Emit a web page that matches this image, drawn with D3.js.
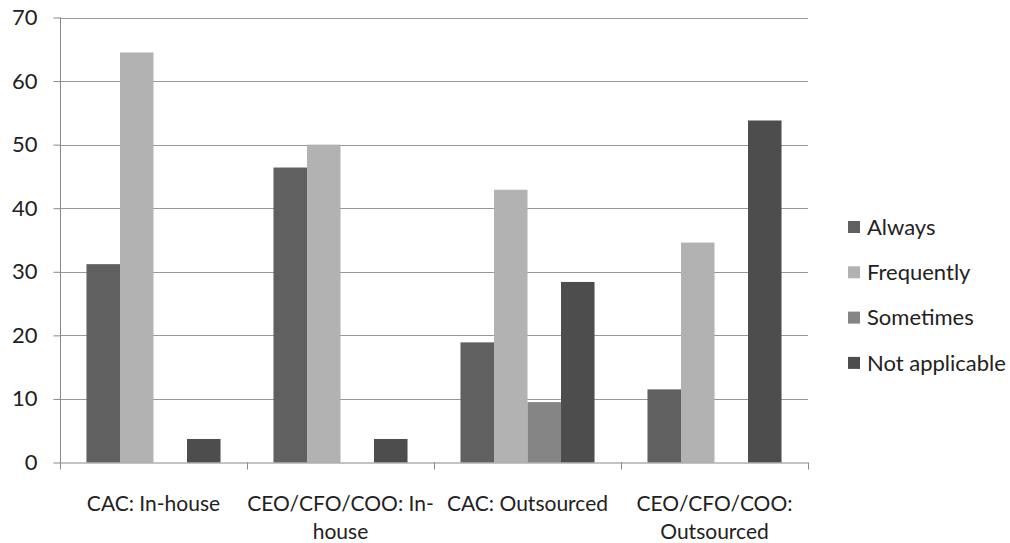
<!DOCTYPE html>
<html>
<head>
<meta charset="utf-8">
<script src="https://cdn.jsdelivr.net/npm/d3@7"></script>
<style>
  html, body { margin: 0; padding: 0; background: #ffffff; }
  svg { display: block; }
  text { font-family: Lato, "Open Sans", sans-serif; fill: #222; }
</style>
</head>
<body>
<svg id="chart" width="1010" height="543"></svg>
<script>
// Categories (x groups) and their wrapped axis labels
const categories = ["CAC: In-house", "CEO/CFO/COO: In-house", "CAC: Outsourced", "CEO/CFO/COO: Outsourced"];
const categoryLines = [
  ["CAC: In-house"],
  ["CEO/CFO/COO: In-", "house"],
  ["CAC: Outsourced"],
  ["CEO/CFO/COO:", "Outsourced"]
];

// Series names and values (percent), one value per category
const seriesNames = ["Always", "Frequently", "Sometimes", "Not applicable"];
const always        = [31.2, 46.4, 18.9, 11.5];
const frequently    = [64.5, 50.0, 42.9, 34.6];
const sometimes     = [0, 0, 9.5, 0];
const notApplicable = [3.7, 3.7, 28.4, 53.8];
const seriesValues = [always, frequently, sometimes, notApplicable];
const seriesColors = ["#606060", "#b2b2b2", "#858585", "#4d4d4d"];

// Y-axis ticks
const yTicks = [0, 10, 20, 30, 40, 50, 60, 70];

const svg = d3.select("#chart");
const plot = { left: 60, right: 808, top: 17.5, bottom: 462.5 };

const y = d3.scaleLinear().domain([0, 70]).range([plot.bottom, plot.top]);
const x0 = d3.scaleBand().domain(categories).range([plot.left, plot.right]).padding(0);
const x1 = d3.scaleBand().domain(seriesNames).range([0, x0.bandwidth()])
  .paddingInner(0).paddingOuter(0.79);

// Horizontal gridlines
svg.append("g")
  .selectAll("line")
  .data(yTicks.filter(d => d > 0))
  .join("line")
  .attr("x1", plot.left).attr("x2", plot.right)
  .attr("y1", d => Math.round(y(d)) + 0.5).attr("y2", d => Math.round(y(d)) + 0.5)
  .attr("stroke", "#979797").attr("stroke-width", 1);

// Bars
const groups = svg.append("g")
  .selectAll("g")
  .data(categories)
  .join("g")
  .attr("transform", d => `translate(${x0(d)},0)`);

groups.selectAll("rect")
  .data((c, ci) => seriesNames.map((s, si) => ({ s, v: seriesValues[si][ci], color: seriesColors[si] })))
  .join("rect")
  .attr("x", d => x1(d.s))
  .attr("width", x1.bandwidth())
  .attr("y", d => y(d.v))
  .attr("height", d => y(0) - y(d.v))
  .attr("fill", d => d.color);

// Y axis
const yAxis = svg.append("g")
  .attr("transform", `translate(${plot.left + 0.5},0)`)
  .call(d3.axisLeft(y).tickValues(yTicks).tickSize(7).tickPadding(16));
yAxis.select(".domain").attr("stroke", "#888").attr("d", `M0,${plot.top}V${plot.bottom}`);
yAxis.selectAll(".tick line").attr("stroke", "#888");
yAxis.selectAll(".tick text")
  .style("font-family", "Lato, 'Open Sans', sans-serif")
  .style("font-size", "22px").attr("fill", "#222");

// X axis (group boundaries as ticks)
const boundaries = categories.map(c => x0(c)).concat([plot.right]);
const xAxisG = svg.append("g");
xAxisG.append("line")
  .attr("x1", plot.left).attr("x2", plot.right)
  .attr("y1", plot.bottom + 0.5).attr("y2", plot.bottom + 0.5)
  .attr("stroke", "#888");
xAxisG.selectAll("line.tk")
  .data(boundaries)
  .join("line").attr("class", "tk")
  .attr("x1", d => Math.round(d) + 0.5).attr("x2", d => Math.round(d) + 0.5)
  .attr("y1", plot.bottom).attr("y2", plot.bottom + 7)
  .attr("stroke", "#888");

// Category labels
const labels = svg.append("g")
  .selectAll("text")
  .data(categories)
  .join("text")
  .attr("text-anchor", "middle")
  .attr("x", d => x0(d) + x0.bandwidth() / 2)
  .attr("y", 511)
  .style("font-size", "21px");
labels.each(function (d, i) {
  d3.select(this).selectAll("tspan")
    .data(categoryLines[i])
    .join("tspan")
    .attr("x", x0(d) + x0.bandwidth() / 2)
    .attr("dy", (t, j) => j === 0 ? 0 : 28)
    .text(t => t);
});

// Legend
const legend = svg.append("g").attr("transform", "translate(848,0)");
const rows = legend.selectAll("g")
  .data(seriesNames)
  .join("g")
  .attr("transform", (d, i) => `translate(0,${227 + i * 45.3})`);
rows.append("rect")
  .attr("x", 0).attr("y", -6).attr("width", 12).attr("height", 12)
  .attr("fill", (d, i) => seriesColors[i]);
rows.append("text")
  .attr("x", 19).attr("y", 0).attr("dy", "0.35em")
  .style("font-size", "22px")
  .text(d => d);
</script>
</body>
</html>
